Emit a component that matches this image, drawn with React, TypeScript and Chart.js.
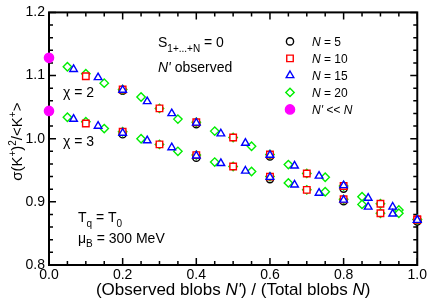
import React, { useEffect, useRef } from 'react';
import { Chart, registerables } from 'chart.js';
import { drawPoint } from 'chart.js/helpers';

Chart.register(...registerables);

const FAMILY = "'Liberation Sans', Arial, Helvetica, sans-serif";

// ---- data (fraction observed N'/N, scaled variance) ----
const xN5 = [0.2, 0.4, 0.6, 0.8, 1.0];
const chi2N5 = [1.076, 1.023, 0.972, 0.921, 0.870];
const chi3N5 = [1.007, 0.970, 0.936, 0.901, 0.869];

const xN10 = [0.1, 0.2, 0.3, 0.4, 0.5, 0.6, 0.7, 0.8, 0.9, 1.0];
const chi2N10 = [1.099, 1.078, 1.048, 1.026, 1.002, 0.975, 0.945, 0.925, 0.897, 0.872];
const chi3N10 = [1.024, 1.011, 0.991, 0.974, 0.956, 0.940, 0.919, 0.904, 0.882, 0.872];

const xN15 = [0.0667, 0.1333, 0.2, 0.2667, 0.3333, 0.4, 0.4667, 0.5333, 0.6, 0.6667, 0.7333, 0.8, 0.8667, 0.9333, 1.0];
const chi2N15 = [1.110, 1.097, 1.077, 1.059, 1.040, 1.025, 1.008, 0.993, 0.974, 0.957, 0.941, 0.926, 0.906, 0.892, 0.871];
const chi3N15 = [1.031, 1.020, 1.009, 0.997, 0.986, 0.973, 0.961, 0.949, 0.939, 0.927, 0.914, 0.903, 0.892, 0.881, 0.871];

const xN20 = [0.05, 0.1, 0.15, 0.2, 0.25, 0.3, 0.35, 0.4, 0.45, 0.5, 0.55, 0.6, 0.65, 0.7, 0.75, 0.8, 0.85, 0.9, 0.95, 1.0];
const chi2N20 = [1.114, 1.103, 1.088, 1.078, 1.066, 1.048, 1.031, 1.026, 1.012, 1.002, 0.988, 0.975, 0.959, 0.945, 0.939, 0.925, 0.908, 0.897, 0.887, 0.872];
const chi3N20 = [1.034, 1.027, 1.016, 1.011, 1.000, 0.991, 0.980, 0.974, 0.963, 0.956, 0.948, 0.940, 0.930, 0.919, 0.916, 0.904, 0.896, 0.882, 0.882, 0.872];

const xLimit = [0.0, 0.0];
const limitVals = [1.128, 1.044];

const xTickLabels = ['0.0', '0.2', '0.4', '0.6', '0.8', '1.0'];
const yTickLabels = ['0.8', '0.9', '1.0', '1.1', '1.2'];

type Seg = { t: string; it?: boolean; sub?: boolean; sup?: boolean };

const legendItems: { segs: Seg[]; style: string; color: string; fill: string; radius: number }[] = [
  { segs: [{ t: 'N', it: true }, { t: ' = 5' }], style: 'circle', color: '#000000', fill: '#ffffff', radius: 3.6 },
  { segs: [{ t: 'N', it: true }, { t: ' = 10' }], style: 'rect', color: '#ff0000', fill: '#ffffff', radius: 4.6 },
  { segs: [{ t: 'N', it: true }, { t: ' = 15' }], style: 'triangle', color: '#0000ff', fill: '#ffffff', radius: 4.4 },
  { segs: [{ t: 'N', it: true }, { t: ' = 20' }], style: 'rectRot', color: '#00ee00', fill: '#ffffff', radius: 4.2 },
  { segs: [{ t: "N'", it: true }, { t: ' << ', it: true }, { t: 'N', it: true }], style: 'circle', color: '#ff00ff', fill: '#ff00ff', radius: 4.6 },
];

const toPts = (xs: number[], a: number[], b: number[]) => [
  ...xs.map((x, i) => ({ x, y: a[i] })),
  ...xs.map((x, i) => ({ x, y: b[i] })),
];

function drawRich(ctx: CanvasRenderingContext2D, segs: Seg[], x: number, y: number, size: number, align: 'left' | 'center') {
  const fontFor = (s: Seg) => `${s.it ? 'italic ' : ''}${s.sub || s.sup ? Math.round(size * 0.68) : size}px ${FAMILY}`;
  let total = 0;
  const widths = segs.map((s) => {
    ctx.font = fontFor(s);
    const w = ctx.measureText(s.t).width;
    total += w;
    return w;
  });
  let cx = align === 'center' ? x - total / 2 : x;
  ctx.textAlign = 'left';
  ctx.textBaseline = 'alphabetic';
  segs.forEach((s, i) => {
    ctx.font = fontFor(s);
    const dy = s.sub ? size * 0.3 : s.sup ? -size * 0.42 : 0;
    ctx.fillText(s.t, cx, y + dy);
    cx += widths[i];
  });
}

const decor = {
  id: 'decor',
  beforeDatasetsDraw(chart: any) {
    const { ctx, chartArea: a, scales } = chart;
    const xs = scales.x;
    const ys = scales.y;
    ctx.save();
    ctx.strokeStyle = '#000';
    ctx.lineWidth = 1.5;
    ctx.beginPath();
    for (let i = 0; i <= 20; i++) {
      const px = xs.getPixelForValue(i * 0.05);
      const len = i % 4 === 0 ? 7 : 4;
      ctx.moveTo(px, a.bottom);
      ctx.lineTo(px, a.bottom - len);
      ctx.moveTo(px, a.top);
      ctx.lineTo(px, a.top + len);
    }
    for (let i = 0; i <= 20; i++) {
      const py = ys.getPixelForValue(0.8 + i * 0.02);
      const len = i % 5 === 0 ? 7 : 4;
      ctx.moveTo(a.left, py);
      ctx.lineTo(a.left + len, py);
      ctx.moveTo(a.right, py);
      ctx.lineTo(a.right - len, py);
    }
    ctx.stroke();
    ctx.lineWidth = 2;
    ctx.strokeRect(a.left, a.top, a.right - a.left, a.bottom - a.top);
    ctx.restore();
  },
  afterDraw(chart: any) {
    const { ctx, chartArea: a } = chart;
    ctx.save();
    ctx.fillStyle = '#000';
    const L = a.left;
    const T = a.top;
    // annotations
    drawRich(ctx, [{ t: 'S' }, { t: '1+...+N', sub: true }, { t: ' = 0' }], L + 109, T + 35, 14, 'left');
    drawRich(ctx, [{ t: "N'", it: true }, { t: ' observed' }], L + 109, T + 60, 14, 'left');
    drawRich(ctx, [{ t: 'χ = 2' }], L + 14, T + 85, 14, 'left');
    drawRich(ctx, [{ t: 'χ = 3' }], L + 14, T + 134, 14, 'left');
    drawRich(ctx, [{ t: 'T' }, { t: 'q', sub: true }, { t: ' = T' }, { t: '0', sub: true }], L + 29, T + 210, 14, 'left');
    drawRich(ctx, [{ t: 'μ' }, { t: 'B', sub: true }, { t: ' = 300 MeV' }], L + 29, T + 230.5, 14, 'left');

    // legend
    legendItems.forEach((it, i) => {
      const cy = T + 29 + i * 17;
      ctx.fillStyle = it.fill;
      ctx.strokeStyle = it.color;
      ctx.lineWidth = 1.4;
      drawPoint(ctx, { pointStyle: it.style as any, radius: it.radius, rotation: 0, borderWidth: 1.4 }, L + 241, cy);
      ctx.fillStyle = '#000';
      drawRich(ctx, it.segs, L + 263, cy + 4.5, 12, 'left');
    });

    // axis titles
    drawRich(
      ctx,
      [{ t: '(Observed blobs ' }, { t: "N'", it: true }, { t: ') / (Total blobs ' }, { t: 'N', it: true }, { t: ')' }],
      (a.left + a.right) / 2,
      295,
      17,
      'center'
    );
    ctx.save();
    ctx.translate(22, (a.top + a.bottom) / 2 + 3);
    ctx.rotate(-Math.PI / 2);
    drawRich(
      ctx,
      [{ t: 'σ(K' }, { t: '+', sup: true }, { t: ')' }, { t: '2', sup: true }, { t: '/<K' }, { t: '+', sup: true }, { t: '>' }],
      0,
      0,
      15,
      'center'
    );
    ctx.restore();
    ctx.restore();
  },
};

export default function App() {
  const ref = useRef<HTMLCanvasElement>(null);
  useEffect(() => {
    document.body.style.margin = '0';
    const mk = (label: string, data: any[], style: string, color: string, fill: string, radius: number, order: number) => ({
      label,
      data,
      pointStyle: style,
      borderColor: color,
      backgroundColor: fill,
      pointBorderColor: color,
      pointBackgroundColor: fill,
      pointRadius: radius,
      pointBorderWidth: 1.4,
      showLine: false,
      clip: false as any,
      order,
    });
    const chart = new Chart(ref.current!, {
      type: 'scatter',
      data: {
        datasets: [
          mk('N = 5', toPts(xN5, chi2N5, chi3N5), 'circle', '#000000', '#ffffff', 3.6, 3),
          mk('N = 20', toPts(xN20, chi2N20, chi3N20), 'rectRot', '#00ee00', '#ffffff', 4.2, 2),
          mk('N = 10', toPts(xN10, chi2N10, chi3N10), 'rect', '#ff0000', '#ffffff', 4.6, 1),
          mk('N = 15', toPts(xN15, chi2N15, chi3N15), 'triangle', '#0000ff', '#ffffff', 4.4, 0),
          mk("N' << N", xLimit.map((x, i) => ({ x, y: limitVals[i] })), 'circle', '#ff00ff', '#ff00ff', 4.6, 0),
        ] as any,
      },
      options: {
        responsive: false,
        devicePixelRatio: 1,
        animation: false,
        layout: { padding: { top: 7, right: 10, left: 0, bottom: 0 } },
        plugins: { legend: { display: false }, tooltip: { enabled: false } },
        scales: {
          x: {
            type: 'linear',
            min: 0,
            max: 1,
            afterFit: (s: any) => {
              s.height = 35;
            },
            ticks: {
              stepSize: 0.2,
              autoSkip: false,
              maxRotation: 0,
              padding: 2,
              color: '#000',
              font: { family: FAMILY, size: 14 },
              callback: (v: any) => xTickLabels[Math.round(Number(v) / 0.2)] ?? '',
            },
            grid: { display: false, drawTicks: false },
            border: { display: false },
          },
          y: {
            type: 'linear',
            min: 0.8,
            max: 1.2,
            afterFit: (s: any) => {
              s.width = 49;
            },
            ticks: {
              stepSize: 0.1,
              autoSkip: false,
              padding: 4,
              color: '#000',
              font: { family: FAMILY, size: 14 },
              callback: (v: any) => yTickLabels[Math.round((Number(v) - 0.8) / 0.1)] ?? '',
            },
            grid: { display: false, drawTicks: false },
            border: { display: false },
          },
        },
      } as any,
      plugins: [decor],
    });
    return () => chart.destroy();
  }, []);
  return (
    <div style={{ width: 429, height: 300 }}>
      <canvas ref={ref} width={429} height={300} style={{ display: 'block' }} />
    </div>
  );
}
